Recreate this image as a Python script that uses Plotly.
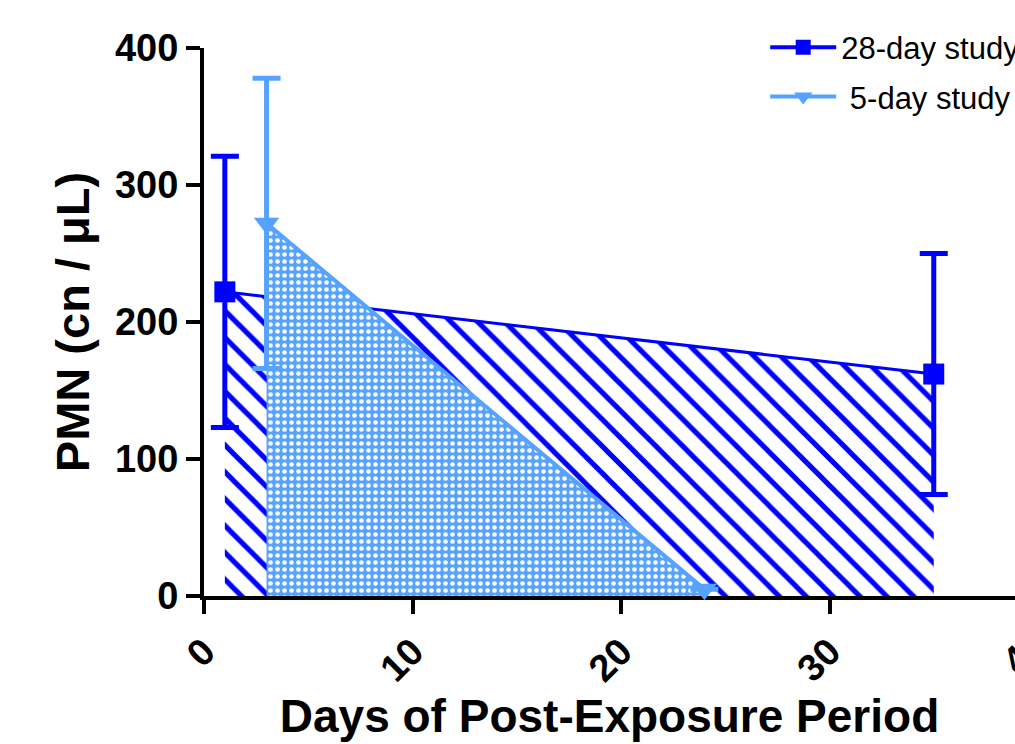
import plotly.graph_objects as go

# Data
days_28 = [1, 35]
pmn_28 = [222, 162]
err_28 = [99, 88]

days_5 = [3, 24]
pmn_5 = [272, 5]
err_5 = [106, 0]

x_ticks = [0, 10, 20, 30, 40]
y_ticks = [0, 100, 200, 300, 400]

BLUE = "#0000FF"
LIGHT = "#55A3FF"
FONT = "Liberation Sans"

ML, MT, MB = 204, 48, 148
FIG_W, FIG_H = 1015, 744
PX_PER_DAY = 20.85
plot_w = FIG_W - ML
x_max = plot_w / PX_PER_DAY

fig = go.Figure()

# filled areas (drawn first)
fig.add_trace(go.Scatter(
    x=days_28, y=pmn_28, showlegend=False, hoverinfo="skip",
    mode="lines", line=dict(color=BLUE, width=3),
    fill="tozeroy", fillcolor="rgba(0,0,0,0)",
    fillpattern=dict(shape="\\", fgcolor=BLUE, bgcolor="white", size=19, solidity=0.27, fillmode="replace"),
))
fig.add_trace(go.Scatter(
    x=days_5, y=pmn_5, showlegend=False, hoverinfo="skip",
    mode="lines", line=dict(color=LIGHT, width=4),
    fill="tozeroy",
    fillpattern=dict(shape=".", fgcolor="white", bgcolor=LIGHT, size=7, solidity=0.35, fillmode="replace"),
))

# markers and error bars on top
fig.add_trace(go.Scatter(
    x=days_28, y=pmn_28, name="28-day study", legendgroup="a",
    mode="markers",
    marker=dict(symbol="square", size=21, color=BLUE),
    error_y=dict(type="data", array=err_28, visible=True, color=BLUE, thickness=5, width=14),
    cliponaxis=False, showlegend=False,
))
fig.add_trace(go.Scatter(
    x=days_5, y=pmn_5, name=" 5-day study", legendgroup="b",
    mode="markers",
    marker=dict(symbol="triangle-down", size=22, color=LIGHT),
    error_y=dict(type="data", array=err_5, visible=True, color=LIGHT, thickness=5, width=14),
    cliponaxis=False, showlegend=False,
))

# legend entries (line + marker, no fill swatch)
fig.add_trace(go.Scatter(x=[None], y=[None], name="28-day study", legendgroup="a",
                         mode="lines+markers", line=dict(color=BLUE, width=4),
                         marker=dict(symbol="square", size=15, color=BLUE)))
fig.add_trace(go.Scatter(x=[None], y=[None], name=" 5-day study", legendgroup="b",
                         mode="lines+markers", line=dict(color=LIGHT, width=4),
                         marker=dict(symbol="triangle-down", size=16, color=LIGHT)))

fig.update_layout(
    width=FIG_W, height=FIG_H,
    margin=dict(l=ML, r=0, t=MT, b=MB, autoexpand=False),
    plot_bgcolor="white", paper_bgcolor="white",
    showlegend=True,
    legend=dict(x=0.692, y=1.05, xanchor="left", yanchor="top",
                font=dict(family=FONT, size=31, color="black"),
                bgcolor="rgba(0,0,0,0)", tracegroupgap=6, itemwidth=66),
    font=dict(family=FONT, color="black"),
)

fig.update_xaxes(
    range=[0, x_max], tickvals=x_ticks, ticktext=[str(v) for v in x_ticks],
    tickangle=-45, ticks="outside", ticklen=14, tickwidth=4, tickcolor="black",
    showline=True, linecolor="black", linewidth=4,
    showgrid=False, zeroline=False, layer="below traces",
    tickfont=dict(family=FONT, size=38, color="black", weight="bold"),
    title=dict(text="<b>Days of Post-Exposure Period</b>", font=dict(family=FONT, size=46, color="black"), standoff=8),
)
fig.update_yaxes(
    range=[0, 400], tickvals=y_ticks, ticks="outside", ticklen=14, tickwidth=4, tickcolor="black",
    showline=True, linecolor="black", linewidth=4,
    showgrid=False, zeroline=False, layer="below traces",
    tickfont=dict(family=FONT, size=38, color="black", weight="bold"),
    title=dict(text="<b>PMN (cn / μL)</b>", font=dict(family=FONT, size=47, color="black"), standoff=12),
)

# the "40" tick label sits just past the right edge; draw it so its visible part shows
fig.add_annotation(x=x_ticks[-1] * PX_PER_DAY / plot_w, y=0, xref="paper", yref="y",
                   text="<b>" + str(x_ticks[-1]) + "</b>", showarrow=False,
                   textangle=-45, xanchor="center", yanchor="middle", yshift=-56, xshift=-14,
                   font=dict(family=FONT, size=38, color="black"))

fig.write_html("out.html", config={"displayModeBar": False},
               post_script="document.body.style.margin='0';document.body.style.overflow='hidden';")
